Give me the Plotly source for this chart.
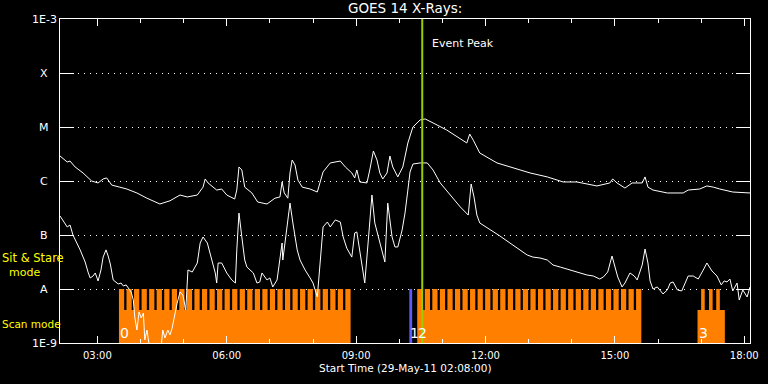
import math
import plotly.graph_objects as go

# ---------------- data ----------------
# times are minutes after 00:00 on 29-May-2011
START_MIN = 128   # 02:08
END_MIN = 1088    # 18:08

x_tick_hours = [3, 6, 9, 12, 15, 18]
x_tick_labels = ["03:00", "06:00", "09:00", "12:00", "15:00", "18:00"]
minor_tick_hours = [3, 4, 5, 6, 7, 8, 9, 10, 11, 12, 13, 14, 15, 16, 17, 18]

class_levels = [1e-9, 1e-8, 1e-7, 1e-6, 1e-5, 1e-4, 1e-3]
class_labels = ["1E-9", "A", "B", "C", "M", "X", "1E-3"]

# GOES 14 long channel (1-8 A)
long_t = [128, 138, 142, 149, 160, 172, 181, 188, 193, 200, 211, 221, 235, 249, 267, 281,
          295, 305, 319, 327, 330, 334, 346, 353, 360, 371, 374, 377, 381, 385, 395, 403,
          416, 427, 434, 437, 440, 445, 448, 451, 455, 459, 465, 476, 486, 490, 494, 504,
          511, 518, 525, 534, 538, 541, 545, 555, 559, 564, 569, 573, 577, 583, 587, 591,
          598, 605, 612, 619, 629, 636, 647, 666, 694, 698, 703, 712, 736, 758, 782, 806,
          828, 847, 875, 893, 897, 903, 914, 924, 938, 942, 946, 953, 973, 995, 1002, 1018,
          1028, 1037, 1046, 1064, 1084, 1088]
long_flux = [2.9e-6, 2.25e-6, 2.34e-6, 1.82e-6, 1.41e-6, 1.0e-6, 9.2e-7, 1.09e-6, 1.14e-6, 8.4e-7,
             7.7e-7, 7.1e-7, 6.0e-7, 4.8e-7, 3.75e-7, 4.3e-7, 5.5e-7, 5.06e-7, 5.5e-7, 7.7e-7,
             1.09e-6, 9.2e-7, 6.8e-7, 7.1e-7, 5.5e-7, 4.64e-7, 6.8e-7, 1.82e-6, 1.6e-6, 7.7e-7,
             6.0e-7, 4.08e-7, 3.75e-7, 4.8e-7, 5.06e-7, 9.6e-7, 6.0e-7, 4.8e-7, 1.41e-6, 2.45e-6,
             1.98e-6, 1.04e-6, 7.7e-7, 7.1e-7, 6.25e-7, 9.6e-7, 1.47e-6, 2.16e-6, 2.25e-6, 2.34e-6,
             1.82e-6, 1.41e-6, 1.14e-6, 1.6e-6, 9.6e-7, 9.2e-7, 1.6e-6, 3.59e-6, 2.45e-6, 1.41e-6,
             1.09e-6, 1.41e-6, 2.9e-6, 1.82e-6, 1.19e-6, 1.82e-6, 5.06e-6, 1.0e-5, 1.35e-5, 1.41e-5,
             1.19e-5, 8.8e-6, 5.06e-6, 7.4e-6, 5.7e-6, 3.3e-6, 2.16e-6, 1.74e-6, 1.41e-6, 1.19e-6,
             9.6e-7, 9.6e-7, 8.1e-7, 9.2e-7, 1.09e-6, 9.2e-7, 7.4e-7, 9.2e-7, 9.2e-7, 1.19e-6,
             7.7e-7, 6.8e-7, 6.0e-7, 6.0e-7, 6.8e-7, 7.1e-7, 8.1e-7, 7.7e-7, 7.1e-7, 6.25e-7,
             6.0e-7, 6.0e-7]

# GOES 14 short channel (0.5-4 A)
short_t = [128, 134, 138, 142, 146, 156, 163, 167, 170, 174, 177, 181, 185, 188, 192, 195,
           198, 202, 206, 209, 213, 216, 220, 223, 227, 230, 232, 235, 238, 241, 244, 246,
           249, 252, 256, 264, 269, 271, 274, 278, 281, 284, 288, 291, 295, 299, 303, 306,
           312, 319, 323, 327, 333, 337, 344, 346, 348, 353, 360, 367, 372, 374, 377, 381,
           385, 388, 397, 402, 406, 409, 416, 420, 424, 430, 434, 437, 438, 448, 452, 458,
           462, 469, 476, 480, 486, 490, 494, 500, 504, 511, 518, 522, 527, 534, 538, 541,
           544, 548, 552, 557, 562, 566, 573, 580, 584, 590, 594, 598, 604, 608, 612, 615,
           619, 629, 639, 647, 657, 671, 685, 696, 700, 704, 708, 712, 726, 740, 754, 768,
           778, 786, 796, 806, 814, 824, 833, 842, 852, 861, 870, 879, 884, 890, 896, 900,
           904, 910, 914, 921, 927, 931, 938, 942, 946, 949, 953, 959, 963, 967, 973, 977,
           981, 987, 993, 1002, 1009, 1016, 1023, 1028, 1035, 1042, 1048, 1052, 1056, 1060, 1064, 1070,
           1073, 1078, 1084, 1088]
short_flux = [2.25e-7, 1.74e-7, 1.41e-7, 1.53e-7, 1.0e-7, 5.3e-8, 3.16e-8, 2.06e-8, 1.6e-8, 1.74e-8,
              1.98e-8, 1.41e-8, 2.25e-8, 3.9e-8, 5.3e-8, 4.08e-8, 2.9e-8, 1.47e-8, 1.35e-8, 1.24e-8,
              1.29e-8, 1.14e-8, 1.19e-8, 1.04e-8, 8.8e-9, 6.25e-9, 3.03e-9, 1.74e-9, 3.75e-9, 2.9e-9,
              3.59e-9, 1.14e-9, 1.74e-9, 9.2e-10, 4.8e-10, 4.8e-10, 9.2e-10, 1.74e-9, 1.24e-9, 1.74e-9,
              1.41e-9, 1.9e-9, 3.75e-9, 5.5e-9, 8.8e-9, 7.7e-9, 4.08e-9, 2.25e-8, 2.06e-8, 3.03e-8,
              7.1e-8, 9.2e-8, 7.1e-8, 4.64e-8, 1.98e-8, 1.29e-8, 3.03e-8, 3.03e-8, 1.98e-8, 1.47e-8,
              1.29e-8, 5.3e-8, 2.55e-7, 9.2e-8, 3.44e-8, 2.55e-8, 1.98e-8, 1.29e-8, 1.35e-8, 1.98e-8,
              1.47e-8, 1.6e-8, 1.09e-8, 1.47e-8, 3.44e-8, 7.1e-8, 3.44e-8, 3.9e-7, 1.67e-7, 5.3e-8,
              3.44e-8, 2.25e-8, 1.6e-8, 1.29e-8, 7.1e-9, 3.03e-8, 1.41e-7, 1.74e-7, 1.41e-7, 1.9e-7,
              1.74e-7, 9.2e-8, 5.7e-8, 3.9e-8, 1.09e-7, 1.14e-7, 6.0e-8, 2.78e-8, 1.29e-8, 8.1e-8,
              5.5e-7, 1.67e-7, 7.1e-8, 3.16e-8, 3.9e-7, 9.2e-8, 6.0e-8, 6.0e-8, 1.24e-7, 2.55e-7,
              6.8e-7, 1.47e-6, 2.06e-6, 2.16e-6, 2.16e-6, 1.6e-6, 9.2e-7, 5.5e-7, 3.3e-7, 2.34e-7,
              8.8e-7, 5.06e-7, 2.34e-7, 1.67e-7, 1.29e-7, 9.6e-8, 7.1e-8, 5.3e-8, 4.26e-8, 3.9e-8,
              3.75e-8, 3.44e-8, 2.78e-8, 2.55e-8, 2.34e-8, 2.16e-8, 1.98e-8, 1.82e-8, 1.74e-8, 1.53e-8,
              1.67e-8, 2.06e-8, 4.08e-8, 2.55e-8, 1.67e-8, 1.09e-8, 1.29e-8, 1.98e-8, 1.74e-8, 1.47e-8,
              2.78e-8, 5.5e-8, 3.03e-8, 1.41e-8, 1.0e-8, 1.09e-8, 9.6e-9, 8.1e-9, 9.6e-9, 1.29e-8,
              1.35e-8, 9.6e-9, 9.2e-9, 1.74e-8, 1.74e-8, 1.53e-8, 2.25e-8, 3.03e-8, 2.16e-8, 1.74e-8,
              1.19e-8, 1.41e-8, 1.35e-8, 1.53e-8, 9.2e-9, 1.29e-8, 6.25e-9, 9.6e-9, 7.1e-9, 1.09e-8]

# observing blocks: scan mode blocks (start, end) and sit & stare exposures
scan_start = [210, 614, 625, 1015]
scan_end = [532.3, 618, 936.8, 1053]
scan_label = ["0", "1", "2", "3"]
scan_is_short = [False, True, False, False]

stare_start_0 = [210, 220.5, 231, 241.5, 252, 262.5, 273, 283.5, 294, 304.5, 315, 325.5, 336,
                 346.5, 357, 367.5, 378, 388.5, 399, 409.5, 420, 430.5, 441, 451.5, 462, 472.5,
                 483, 493.5, 504, 514.5, 525]
stare_start_2 = [625, 635.5, 646, 656.5, 667, 677.5, 688, 698.5, 709, 719.5, 730, 740.5, 751,
                 761.5, 772, 782.5, 793, 803.5, 814, 824.5, 835, 845.5, 856, 866.5, 877, 887.5,
                 898, 908.5, 919, 929.5]
stare_start_3 = [1020, 1031, 1041]
stare_len = [7.3, 7.3, 5.0]

event_peak_t = 632  # 10:32

# ---------------- style ----------------
ORANGE = "#ff8000"
BLUE = "#5a5aff"
GREEN = "#9acd00"
YELLOW = "#ffff00"
FLOOR = 1e-9
SCAN_TOP = 4.1e-9
STARE_TOP = 1e-8
FONT = "DejaVu Sans"
PLOT_L, PLOT_W = 60, 690


def h(m):
    return m / 60.0


def px_to_paper(px):
    return (px - PLOT_L) / PLOT_W


fig = go.Figure()

# scan-mode blocks (orange) and the short blue block
ox, oy, bx, by = [], [], [], []
for s, e, short in zip(scan_start, scan_end, scan_is_short):
    if short:
        bx += [h(s), h(s), h(e), h(e), h(s), None]
        by += [FLOOR, STARE_TOP, STARE_TOP, FLOOR, FLOOR, None]
    else:
        ox += [h(s), h(s), h(e), h(e), h(s), None]
        oy += [FLOOR, SCAN_TOP, SCAN_TOP, FLOOR, FLOOR, None]
for starts, ln in zip([stare_start_0, stare_start_2, stare_start_3], stare_len):
    for s in starts:
        ox += [h(s), h(s), h(s + ln), h(s + ln), h(s), None]
        oy += [FLOOR, STARE_TOP, STARE_TOP, FLOOR, FLOOR, None]

fig.add_trace(go.Scatter(x=ox, y=oy, fill="toself", fillcolor=ORANGE, mode="lines",
                         line=dict(width=0, color=ORANGE), hoverinfo="skip", showlegend=False))
fig.add_trace(go.Scatter(x=bx, y=by, fill="toself", fillcolor=BLUE, mode="lines",
                         line=dict(width=0, color=BLUE), hoverinfo="skip", showlegend=False))

# X-ray curves
fig.add_trace(go.Scatter(x=[h(t) for t in long_t], y=long_flux, mode="lines",
                         line=dict(color="white", width=1), showlegend=False))
fig.add_trace(go.Scatter(x=[h(t) for t in short_t], y=short_flux, mode="lines",
                         line=dict(color="white", width=1), showlegend=False))

# event peak line
fig.add_trace(go.Scatter(x=[h(event_peak_t), h(event_peak_t)], y=[1e-9, 1e-3], mode="lines",
                         line=dict(color=GREEN, width=2), showlegend=False))

annotations = []
# centered class labels on the left
for lv, lab in zip(class_levels, class_labels):
    annotations.append(dict(x=px_to_paper(44), xref="paper", y=math.log10(lv), yref="y", text=lab,
                            showarrow=False, xanchor="center", yanchor="middle",
                            font=dict(family=FONT, size=11, color="white")))
# block numbers
for s, lab in zip(scan_start, scan_label):
    annotations.append(dict(x=h(s), xref="x", y=0.031, yref="paper", text=lab, showarrow=False,
                            xanchor="left", yanchor="middle", xshift=-1,
                            font=dict(family=FONT, size=14, color="white")))
annotations += [
    dict(x=h(event_peak_t), xref="x", y=-3 - (43 - 19) / 54, yref="y", text="Event Peak",
         showarrow=False, xanchor="left", yanchor="middle", xshift=8,
         font=dict(family=FONT, size=11, color="white")),
    dict(x=0.5, xref="paper", y=1.034, yref="paper", text="GOES 14 X-Rays:", showarrow=False,
         xanchor="center", yanchor="middle", font=dict(family=FONT, size=13.5, color="white")),
    dict(x=0.5, xref="paper", y=-0.077, yref="paper", text="Start Time (29-May-11 02:08:00)",
         showarrow=False, xanchor="center", yanchor="middle",
         font=dict(family=FONT, size=10.5, color="white")),
    dict(x=px_to_paper(0), xref="paper", y=-8.0 + (289 - 258) / 54, yref="y", text="Sit & Stare",
         showarrow=False, xanchor="left", yanchor="middle",
         font=dict(family=FONT, size=11.5, color=YELLOW)),
    dict(x=px_to_paper(24.5), xref="paper", y=-8.0 + (289 - 272) / 54, yref="y", text="mode",
         showarrow=False, xanchor="center", yanchor="middle",
         font=dict(family=FONT, size=11, color=YELLOW)),
    dict(x=px_to_paper(0), xref="paper", y=-8.0 + (289 - 324) / 54, yref="y", text="Scan mode",
         showarrow=False, xanchor="left", yanchor="middle",
         font=dict(family=FONT, size=10.5, color=YELLOW)),
]

fig.update_layout(
    width=768, height=384,
    margin=dict(l=60, r=18, t=19, b=41, autoexpand=False),
    paper_bgcolor="black", plot_bgcolor="black",
    showlegend=False,
    annotations=annotations,
    xaxis=dict(range=[h(START_MIN), h(END_MIN)], tickvals=x_tick_hours, ticktext=x_tick_labels,
               ticks="inside", ticklen=7, tickwidth=1, tickcolor="white",
               showline=True, linecolor="white", linewidth=1, mirror="ticks",
               showgrid=False, zeroline=False, automargin=False, ticklabelstandoff=3,
               tickfont=dict(family=FONT, size=10, color="white"),
               minor=dict(tickvals=minor_tick_hours, ticks="inside", ticklen=4,
                          tickcolor="white", tickwidth=1, showgrid=False)),
    yaxis=dict(type="log", range=[-9, -3], tickvals=class_levels, showticklabels=False,
               ticks="inside", ticklen=14, tickwidth=1, tickcolor="white",
               showline=True, linecolor="white", linewidth=1, mirror="ticks",
               showgrid=True, gridcolor="white", gridwidth=1, griddash="1px,5px",
               zeroline=False, automargin=False),
)

fig.write_html("out.html", config={"displayModeBar": False},
               post_script="document.body.style.margin='0';document.body.style.background='black';")
